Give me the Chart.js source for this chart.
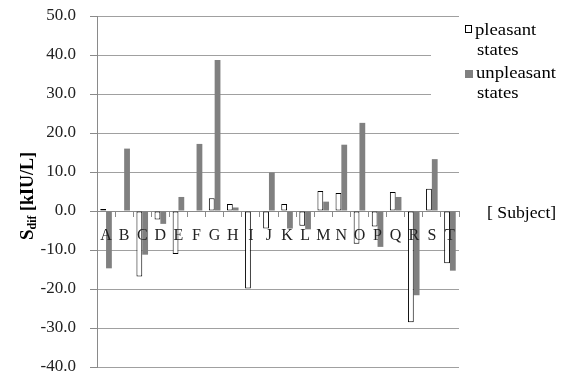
<!DOCTYPE html>
<html>
<head>
<meta charset="utf-8">
<script src="https://cdn.jsdelivr.net/npm/chart.js@4.4.0/dist/chart.umd.min.js"></script>
<style>
    html, body { margin: 0; padding: 0; background: #fff; }
    canvas { display: block; }
</style>
</head>
<body>
<canvas id="sdifChart" width="569" height="373"></canvas>
<script>
const subjects = ['A', 'B', 'C', 'D', 'E', 'F', 'G', 'H', 'I', 'J', 'K', 'L', 'M', 'N', 'O', 'P', 'Q', 'R', 'S', 'T'];
const pleasantStates = [0.5, 0, -16.8, -2.2, -11.0, 0, 3.3, 1.8, -19.9, -4.5, 1.8, -3.8, 5.1, 4.6, -8.4, -4.0, 4.9, -28.5, 5.7, -13.4];
const unpleasantStates = [-14.7, 16.0, -11.2, -3.3, 3.6, 17.2, 38.7, 0.9, 0, 9.9, -4.5, -4.7, 2.4, 17.0, 22.6, -9.2, 3.6, -21.6, 13.3, -15.3];
const legendLines = [['pleasant', 'states'], ['unpleasant', 'states']];
const xTitle = '[ Subject]';

const serif = '"Liberation Serif", "Times New Roman", serif';
const gridGray = '#a0a0a0';
const axisGray = '#8a8a8a';

// text in the picture is a bit wider than Liberation Serif, so stretch it slightly
function wideText(ctx, text, x, y, sx) {
    ctx.save();
    ctx.translate(x, y);
    ctx.scale(sx, 1);
    ctx.fillText(text, 0, 0);
    ctx.restore();
}

// legend, axis titles and the white legend box are drawn by hand
const extras = {
    id: 'extras',
    afterDraw(chart) {
        const ctx = chart.ctx;
        ctx.save();

        // legend box hides the right end of two gridlines
        ctx.fillStyle = '#fff';
        ctx.fillRect(431, 38, 31, 76);

        ctx.fillStyle = '#000';
        ctx.font = '17px ' + serif;
        ctx.textBaseline = 'alphabetic';
        ctx.textAlign = 'left';

        ctx.strokeStyle = '#000';
        ctx.lineWidth = 1;
        ctx.strokeRect(465.5, 25.5, 6, 7);
        wideText(ctx, legendLines[0][0], 475, 35, 1.1);
        wideText(ctx, legendLines[0][1], 477, 55, 1.1);

        ctx.fillStyle = '#808080';
        ctx.fillRect(465, 70, 8, 8);
        ctx.fillStyle = '#000';
        wideText(ctx, legendLines[1][0], 476, 78, 1.1);
        wideText(ctx, legendLines[1][1], 477, 98, 1.1);

        // x title at the zero line
        wideText(ctx, xTitle, 487, 218, 1.04);

        // y title: S with subscript dif
        ctx.translate(33, 240);
        ctx.rotate(-Math.PI / 2);
        ctx.font = 'bold 19px ' + serif;
        ctx.fillText('S', 0, 0);
        let x = ctx.measureText('S').width;
        ctx.font = 'bold 12px ' + serif;
        ctx.fillText('dif', x, 3);
        x += ctx.measureText('dif').width;
        ctx.font = 'bold 18px ' + serif;
        ctx.fillText(' [kIU/L]', x, 0);

        ctx.restore();
    }
};

const ctx = document.getElementById('sdifChart').getContext('2d');
new Chart(ctx, {
    type: 'bar',
    data: {
        labels: subjects,
        datasets: [{
            label: 'pleasant states',
            data: pleasantStates,
            backgroundColor: '#ffffff',
            borderColor: '#000000',
            borderWidth: 1,
            borderSkipped: false
        }, {
            label: 'unpleasant states',
            data: unpleasantStates,
            backgroundColor: '#808080',
            borderWidth: 0
        }]
    },
    options: {
        responsive: false,
        animation: false,
        devicePixelRatio: 1,
        datasets: {
            bar: {
                categoryPercentage: 0.64,
                barPercentage: 1
            }
        },
        layout: {
            padding: { left: 0, top: 16, right: 110, bottom: 6 }
        },
        scales: {
            x: {
                position: { y: 0 },
                offset: true,
                afterFit: function (scale) { scale.height = 0; },
                grid: {
                    drawOnChartArea: false,
                    tickLength: 5,
                    color: axisGray
                },
                border: { display: true, color: axisGray },
                ticks: {
                    z: 1,
                    color: '#222',
                    padding: 10,
                    maxRotation: 0,
                    autoSkip: false,
                    font: { family: serif, size: 16 }
                }
            },
            y: {
                min: -40,
                max: 50,
                afterFit: function (scale) {
                    scale.width = 97;
                    // label padding would otherwise shrink the plot vertically
                    scale.paddingTop = 0;
                    scale.paddingBottom = 0;
                },
                grid: {
                    color: gridGray,
                    tickLength: 7,
                    tickColor: axisGray
                },
                border: { display: true, color: axisGray },
                ticks: {
                    stepSize: 10,
                    color: '#222',
                    padding: 14,
                    font: { family: serif, size: 17 },
                    callback: v => v.toFixed(1)
                }
            }
        },
        plugins: {
            legend: { display: false },
            tooltip: { enabled: false }
        }
    },
    plugins: [extras]
});
</script>
</body>
</html>
